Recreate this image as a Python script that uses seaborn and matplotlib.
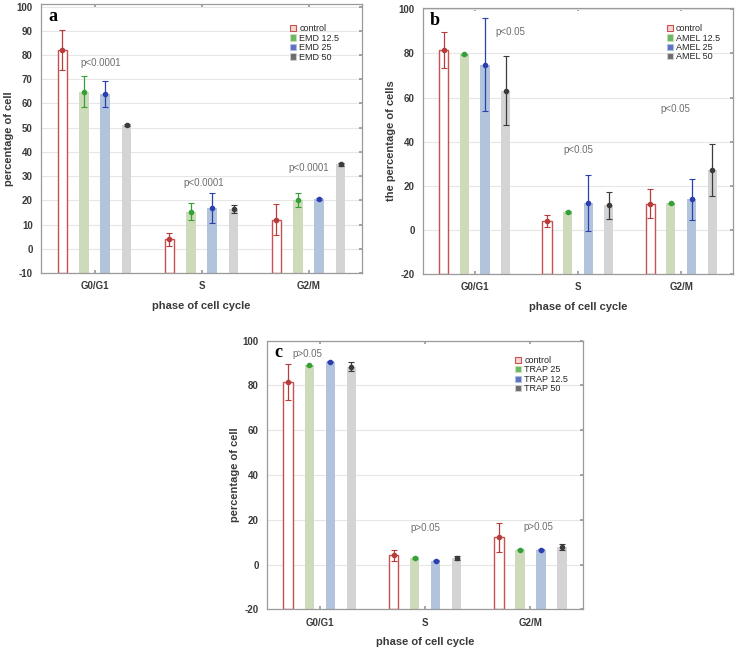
import numpy as np
import pandas as pd
import matplotlib
matplotlib.use('Agg')
import matplotlib.pyplot as plt
from matplotlib.patches import Patch
import seaborn as sns

sns.set_theme(style='white')
plt.rcParams['font.family'] = ['Liberation Sans', 'DejaVu Sans']
plt.rcParams['axes.unicode_minus'] = False

phases = ['G0/G1', 'S', 'G2/M']

# panel a - EMD
emd_groups = ['control', 'EMD 12.5', 'EMD 25', 'EMD 50']
emd_mean = [[82, 4, 12], [64.8, 15.3, 20.2], [63.8, 17, 20.4], [51.2, 16.3, 34.8]]
emd_err = [[8.2, 2.7, 6.4], [6.4, 3.6, 2.9], [5.3, 6.2, 0.4], [0.4, 1.7, 0.5]]
emd_p = ['p<0.0001', 'p<0.0001', 'p<0.0001']
emd_p_xy = [(0.06, 76.6), (1.02, 27), (2.0, 33.2)]

# panel b - AMEL
amel_groups = ['control', 'AMEL 12.5', 'AMEL 25', 'AMEL 50']
amel_mean = [[81.5, 4.2, 11.9], [79.5, 8.2, 12], [74.8, 12.2, 13.9], [63, 11.1, 27.2]]
amel_err = [[8, 2.7, 6.6], [0.3, 0.3, 0.3], [21, 12.6, 9.3], [15.6, 6.3, 11.8]]
amel_p = ['p<0.05', 'p<0.05', 'p<0.05']
amel_p_xy = [(0.35, 89.5), (1.0, 36.4), (1.94, 55)]

# panel c - TRAP
trap_groups = ['control', 'TRAP 25', 'TRAP 12.5', 'TRAP 50']
trap_mean = [[81.4, 4.1, 12.1], [89, 2.9, 6.7], [90.6, 1.8, 6.7], [88.3, 2.9, 7.9]]
trap_err = [[8, 2.5, 6.5], [0.3, 0.3, 0.3], [0.3, 0.3, 0.3], [2, 1, 1.3]]
trap_p = ['p>0.05', 'p>0.05', 'p>0.05']
trap_p_xy = [(-0.12, 93.9), (1.0, 16.3), (2.08, 16.8)]

fill_colors = ['white', '#cfe0b4', '#aac4e2', '#d4d4d4']
err_colors = ['#b83c3c', '#35a035', '#2c3fb0', '#3c3c3c']
ctrl_edge = '#c9504f'
text_col = '#3a3a3a'


def draw_panel(ax, groups, means, errs, pvals, p_xy, letter, ylabel, ylim, yticks, leg_xy):
    rows = []
    for g, m in zip(groups, means):
        for ph, v in zip(phases, m):
            rows.append({'phase': ph, 'group': g, 'value': v})
    df = pd.DataFrame(rows)

    sns.barplot(data=df, x='phase', y='value', hue='group', order=phases,
                hue_order=groups, palette=fill_colors, errorbar=None,
                width=0.8, gap=0.55, legend=False, ax=ax, linewidth=0)

    bar_conts = list(ax.containers)
    for i, cont in enumerate(bar_conts):
        xs = [p.get_x() + p.get_width() / 2 for p in cont.patches]
        hs = [p.get_height() for p in cont.patches]
        for p in cont.patches:
            if i == 0:
                p.set_edgecolor(ctrl_edge)
                p.set_linewidth(1.0)
                p.set_facecolor('white')
            else:
                p.set_edgecolor(fill_colors[i])
            # bars go down to the bottom of the axis in the original plot
            p.set_y(ylim[0])
            p.set_height(p.get_height() - ylim[0])
        ax.errorbar(xs, hs, yerr=errs[i], fmt='o', ms=3, color=err_colors[i],
                    elinewidth=0.9, capsize=2, capthick=0.8, zorder=5)

    for t, (x, y) in zip(pvals, p_xy):
        ax.text(x, y, t, ha='center', va='center', fontsize=7, color='#6e6e6e')

    ax.text(0.022, 0.955, letter, transform=ax.transAxes, ha='left', va='center',
            fontsize=13, fontweight='bold', family='Liberation Serif', color='black')

    handles = [Patch(facecolor='#f3d6d6', edgecolor=ctrl_edge, lw=0.8)]
    handles += [Patch(facecolor=err_colors[i], edgecolor=fill_colors[i], lw=0.8, alpha=0.75)
                for i in range(1, 4)]
    ax.legend(handles, groups, loc='upper left', bbox_to_anchor=leg_xy, frameon=False,
              fontsize=6.5, handlelength=0.7, handleheight=0.7, labelspacing=0.05,
              handletextpad=0.3, borderpad=0, borderaxespad=0)

    ax.set_xlim(-0.5, 2.5)
    ax.set_ylim(*ylim)
    ax.set_yticks(yticks)
    ax.yaxis.grid(True, color='#e6e6e6', lw=0.8)
    ax.set_axisbelow(True)
    for s in ax.spines.values():
        s.set_visible(True)
        s.set_color('#9a9a9a')
        s.set_linewidth(0.9)
    ax.tick_params(axis='both', labelsize=7, colors=text_col, length=2,
                   direction='in', top=True, right=True, bottom=True, left=False,
                   pad=6)
    ax.tick_params(axis='both', color='#9a9a9a')
    for lab in ax.get_xticklabels() + ax.get_yticklabels():
        lab.set_fontweight('bold')
    ax.set_xlabel('phase of cell cycle', fontsize=8, fontweight='bold', color=text_col, labelpad=7)
    ax.set_ylabel(ylabel, fontsize=8, fontweight='bold', color=text_col, labelpad=2)


fig = plt.figure(figsize=(7.38, 6.48), dpi=100)
ax_a = fig.add_axes([0.0556, 0.5787, 0.435, 0.415])
ax_b = fig.add_axes([0.573, 0.577, 0.420, 0.4105])
ax_c = fig.add_axes([0.362, 0.0597, 0.428, 0.4145])

draw_panel(ax_a, emd_groups, emd_mean, emd_err, emd_p, emd_p_xy, 'a',
           'percentage of cell', (-10, 101), np.arange(-10, 101, 10), (0.776, 0.925))
draw_panel(ax_b, amel_groups, amel_mean, amel_err, amel_p, amel_p_xy, 'b',
           'the percentage of cells', (-20, 100.5), np.arange(-20, 101, 20), (0.787, 0.94))
draw_panel(ax_c, trap_groups, trap_mean, trap_err, trap_p, trap_p_xy, 'c',
           'percentage of cell', (-20, 100), np.arange(-20, 101, 20), (0.785, 0.943))

fig.savefig('out.png', dpi=100)
